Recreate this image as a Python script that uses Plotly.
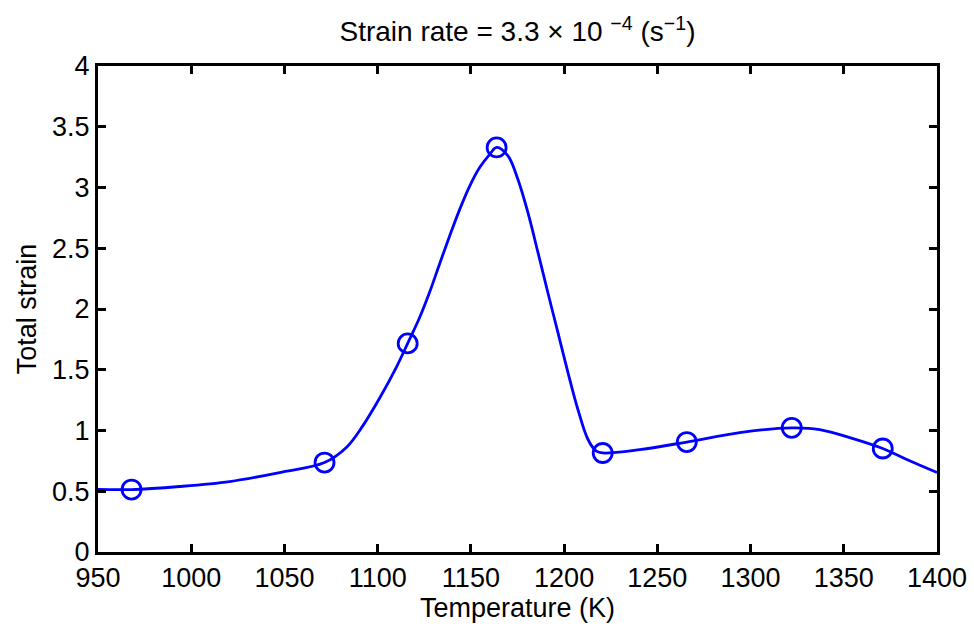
import plotly.graph_objects as go

# measured points (markers)
temp_pts = [968.0, 1071.5, 1116.1, 1163.8, 1220.7, 1265.8, 1322.1, 1370.9]
strain_pts = [0.514, 0.736, 1.717, 3.33, 0.815, 0.905, 1.022, 0.852]

# smooth fitted curve
temp_curve = [950, 968.0, 993.7, 1020.6, 1047.4, 1071.5, 1083.2, 1092.1, 1101.0, 1110.0,
              1116.1, 1122.5, 1127.9, 1133.2, 1138.6, 1144.0, 1149.3, 1154.7, 1160.1,
              1163.8, 1169.9, 1175.2, 1180.6, 1186.0, 1191.3, 1196.7, 1202.1, 1207.4,
              1212.8, 1217.3, 1220.7, 1240.6, 1265.8, 1294.2, 1322.1, 1337.1, 1353.2,
              1370.9, 1383.8, 1400]
strain_curve = [0.515, 0.514, 0.539, 0.58, 0.654, 0.736, 0.86, 1.04, 1.265, 1.52,
                1.717, 1.93, 2.14, 2.37, 2.60, 2.82, 3.01, 3.164, 3.273,
                3.33, 3.26, 3.068, 2.793, 2.464, 2.134, 1.805, 1.475, 1.173,
                0.926, 0.83, 0.815, 0.843, 0.905, 0.983, 1.022, 1.008, 0.942,
                0.852, 0.761, 0.654]

x_ticks = [950, 1000, 1050, 1100, 1150, 1200, 1250, 1300, 1350, 1400]
y_ticks = [0, 0.5, 1, 1.5, 2, 2.5, 3, 3.5, 4]
y_ticklabels = ["0", "0.5", "1", "1.5", "2", "2.5", "3", "3.5", "4"]

BLUE = "#0000ff"
FONT = "Liberation Sans, Arial, sans-serif"
FS = 27

fig = go.Figure()
fig.add_trace(go.Scatter(x=temp_curve, y=strain_curve, mode="lines",
                         line=dict(color=BLUE, width=2.8, shape="spline", smoothing=1.0),
                         hoverinfo="skip", showlegend=False))
fig.add_trace(go.Scatter(x=temp_pts, y=strain_pts, mode="markers",
                         marker=dict(symbol="circle-open", size=19, color=BLUE,
                                     line=dict(color=BLUE, width=2.8)),
                         showlegend=False))

axis_common = dict(showline=True, linecolor="black", linewidth=3, mirror="ticks",
                   ticks="inside", ticklen=8, tickwidth=3, tickcolor="black",
                   showgrid=False, zeroline=False,
                   tickfont=dict(family=FONT, size=FS, color="black"))

fig.update_xaxes(range=[950, 1400], tickvals=x_ticks, ticktext=[str(v) for v in x_ticks],
                 title=dict(text="Temperature (K)", font=dict(family=FONT, size=FS, color="black"),
                            standoff=0),
                 **axis_common)
fig.update_yaxes(range=[0, 4], tickvals=y_ticks, ticktext=y_ticklabels,
                 title=dict(text="Total strain", font=dict(family=FONT, size=FS, color="black"),
                            standoff=8),
                 **axis_common)

fig.update_layout(
    width=974, height=631,
    margin=dict(l=98, r=37, t=66, b=79, autoexpand=False),
    paper_bgcolor="white", plot_bgcolor="white",
    title=dict(text="Strain rate = 3.3 \u00d7 10 <sup>\u22124</sup> (s<sup>\u22121</sup>)",
               x=(98 + 937) / 2 / 974, xanchor="center", y=0.95, yanchor="middle",
               font=dict(family=FONT, size=28, color="black")),
)

fig.write_html("out.html")
